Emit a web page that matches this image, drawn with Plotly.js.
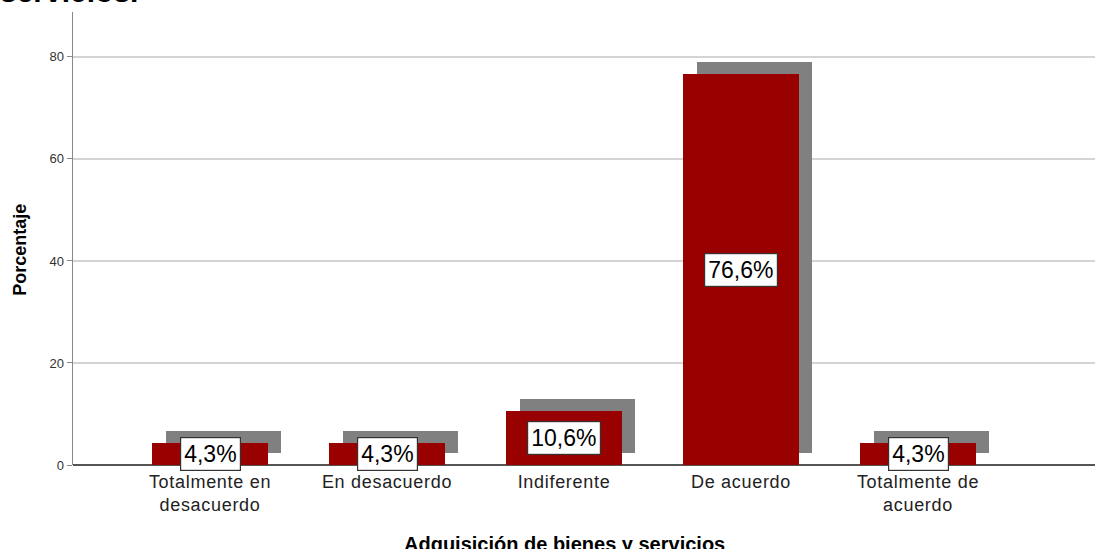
<!DOCTYPE html>
<html>
<head>
<meta charset="utf-8">
<script src="https://cdn.plot.ly/plotly-3.0.1.min.js"></script>
<style>
html,body{margin:0;padding:0;background:#fff;}
#chart{width:1095px;height:549px;}
#chart .xtick text{letter-spacing:0.7px;}
</style>
</head>
<body>
<div id="chart"></div>
<script>
var categories = ["Totalmente en<br>desacuerdo", "En desacuerdo", "Indiferente", "De acuerdo", "Totalmente de<br>acuerdo"];
var percentages = [4.3, 4.3, 10.6, 76.6, 4.3];
var labels = ["4,3%", "4,3%", "10,6%", "76,6%", "4,3%"];
var yTicks = [0, 20, 40, 60, 80];

var barW = 0.65;
var shadowDx = 0.075;
var shadowBase = 2.35;
var idx = categories.map(function(_, i){ return i; });
var FONT = 'Liberation Sans, Arial, sans-serif';

var shadow = {
  type: 'bar', x: idx, y: percentages,
  base: percentages.map(function(){ return shadowBase; }),
  width: barW, offset: -barW/2 + shadowDx,
  marker: {color: '#808080', line: {width: 0}},
  hoverinfo: 'skip', showlegend: false
};
var bars = {
  type: 'bar', x: idx, y: percentages,
  width: barW, offset: -barW/2,
  marker: {color: '#990000', line: {width: 0}},
  hoverinfo: 'skip', showlegend: false
};

var annotations = percentages.map(function(v, i){
  return {
    x: i, y: v/2, xref: 'x', yref: 'y', text: labels[i], showarrow: false,
    font: {family: FONT, size: 23, color: '#000'},
    bgcolor: '#ffffff', bordercolor: '#333333', borderwidth: 1.2, borderpad: 3
  };
});
annotations.push({
  xref: 'paper', yref: 'paper', x: 0.481, y: 0, yanchor: 'middle', yshift: -79,
  text: '<b>Adquisición de bienes y servicios</b>', showarrow: false,
  font: {family: FONT, size: 20, color: '#000'}
});
annotations.push({
  xref: 'paper', yref: 'paper', x: 0, y: 0.475, xanchor: 'center', xshift: -53,
  textangle: -90, text: '<b>Porcentaje</b>', showarrow: false,
  font: {family: FONT, size: 18, color: '#000'}
});
annotations.push({
  xref: 'paper', yref: 'paper', x: 0, y: 1, xanchor: 'left', yanchor: 'bottom',
  xshift: -75, yshift: 2,
  text: '<b>servicios.</b>', showarrow: false,
  font: {family: FONT, size: 30, color: '#000'}
});

var layout = {
  width: 1095, height: 549,
  margin: {l: 73, r: 0, t: 12, b: 84},
  paper_bgcolor: '#ffffff', plot_bgcolor: '#ffffff',
  barmode: 'overlay', bargap: 0,
  showlegend: false,
  xaxis: {
    range: [-0.774, 5.0], tickvals: idx, ticktext: categories,
    showgrid: false, zeroline: false, showline: false, ticks: '',
    ticklabelstandoff: 4,
    tickfont: {family: FONT, size: 18, color: '#222'}
  },
  yaxis: {
    range: [0, 88.8], tickvals: yTicks, ticktext: yTicks.map(String),
    showgrid: true, gridcolor: '#d4d4d4', gridwidth: 1.5,
    zeroline: true, zerolinecolor: '#555555', zerolinewidth: 1.5,
    showline: true, linecolor: '#888888', linewidth: 1.5,
    ticks: 'outside', ticklen: 5, tickcolor: '#888888',
    tickfont: {family: FONT, size: 13, color: '#333'}
  },
  annotations: annotations
};

Plotly.newPlot('chart', [shadow, bars], layout, {displayModeBar: false, staticPlot: true});
</script>
</body>
</html>
